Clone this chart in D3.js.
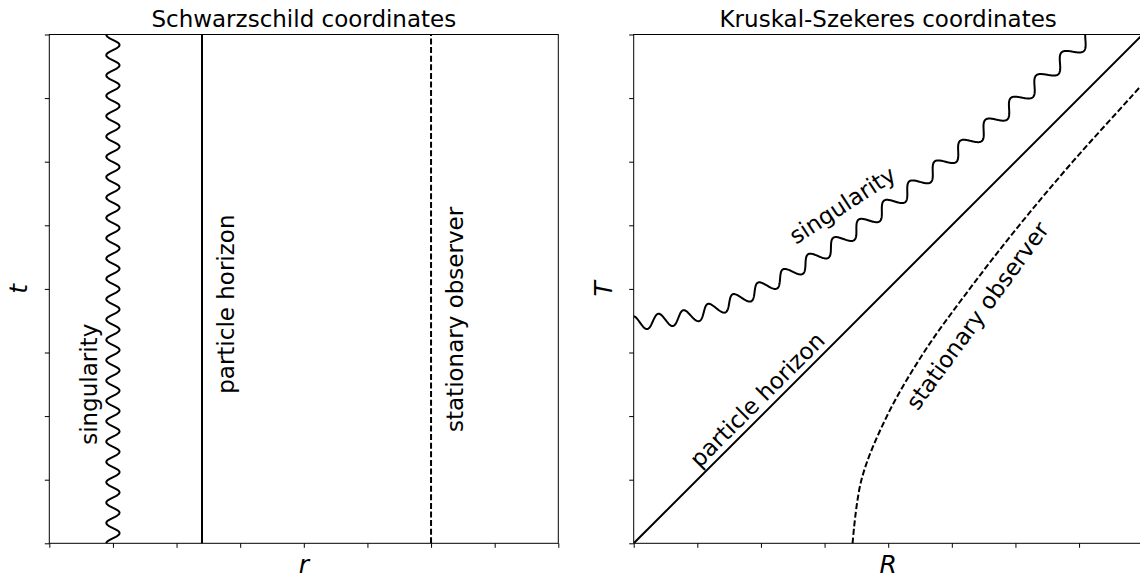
<!DOCTYPE html>
<html>
<head>
<meta charset="utf-8">
<title>Schwarzschild vs Kruskal-Szekeres</title>
<script src="https://d3js.org/d3.v7.min.js"></script>
<style>
  body { margin: 0; background: #fff; }
  svg { display: block; font-family: "DejaVu Sans", sans-serif; }
  .spine { fill: none; stroke: #000; stroke-width: 1; }
  .curve { fill: none; stroke: #000; stroke-width: 2; }
  .dashed { stroke-dasharray: 6 2.6; }
  .label { font-size: 23px; fill: #000; }
  .title { font-size: 23px; fill: #000; }
  .axlabel { font-size: 25px; font-style: italic; fill: #000; }
</style>
</head>
<body>
<svg id="chart" width="1140" height="579"></svg>
<script>
// titles and axis names
const titles = ["Schwarzschild coordinates", "Kruskal-Szekeres coordinates"];
const xNames = ["r", "R"];
const yNames = ["t", "T"];

// both panels run 0..4, unlabeled ticks every 0.5
const tickVals = [0, 0.5, 1, 1.5, 2, 2.5, 3, 3.5, 4];

// Schwarzschild panel: world lines at fixed r
const schwNames = ["singularity", "particle horizon", "stationary observer"];
const schwR = [0.5, 1.2, 3.0];
const schwLabelR = [0.31, 1.39, 3.19];
const schwLabelT = [1.25, 1.88, 1.76];

// Kruskal panel, points
const horizonR = [0, 4];
const horizonT = [0, 4];
const singR = [0, 0.5, 1, 1.5, 2, 2.5, 3, 3.5, 4];
const singT = [1.73, 1.80, 2.0, 2.29, 2.65, 3.04, 3.46, 3.91, 4.36];
const obsR = [1.72, 1.79, 1.99, 2.28, 2.64, 3.03, 3.45, 3.90, 4.35];
const obsT = [0, 0.5, 1, 1.5, 2, 2.5, 3, 3.5, 4];
const kruskalNames = ["singularity", "particle horizon", "stationary observer"];
const kruskalLabelR = [1.64, 0.97, 2.70];
const kruskalLabelT = [2.66, 1.13, 1.79];
const kruskalLabelRot = [-33, -45, -54];

const svg = d3.select("#chart");
const W = 509, plotTop = 34.5, plotBottom = 543.3;
const panelLeft = [49.3, 633.7];
const sx = panelLeft.map(l => d3.scaleLinear().domain([0, 4]).range([l, l + W]));
const sy = d3.scaleLinear().domain([0, 4]).range([plotBottom, plotTop]);
const defs = svg.append("defs");
const line = d3.line();
const smooth = d3.line().curve(d3.curveCatmullRom.alpha(0.5));

// sample a smooth path every half pixel
function sampleCurve(pts) {
    const tmp = svg.append("path").attr("d", smooth(pts));
    const node = tmp.node(), L = node.getTotalLength();
    const out = [];
    for (let s = 0; s <= L; s += 0.5) {
        const p = node.getPointAtLength(s);
        out.push([p.x, p.y, s]);
    }
    tmp.remove();
    return out;
}

// push the samples sideways along the normal -> wavy line
function wiggle(samples, amp, phase) {
    return samples.map((p, k) => {
        const a = samples[Math.max(0, k - 1)], b = samples[Math.min(samples.length - 1, k + 1)];
        let tx = b[0] - a[0], ty = b[1] - a[1];
        const n = Math.hypot(tx, ty) || 1;
        tx /= n; ty /= n;
        const off = -amp * Math.cos(phase(p));
        return [p[0] - ty * off, p[1] + tx * off];
    });
}

panelLeft.forEach((l, i) => {
    const g = svg.append("g");
    defs.append("clipPath").attr("id", "clip" + i)
        .append("rect").attr("x", l).attr("y", plotTop).attr("width", W).attr("height", plotBottom - plotTop);

    g.append("g").attr("transform", `translate(0,${plotBottom})`)
        .call(d3.axisBottom(sx[i]).tickValues(tickVals).tickFormat("").tickSize(4.5))
        .call(a => a.select(".domain").remove());
    g.append("g").attr("transform", `translate(${l},0)`)
        .call(d3.axisLeft(sy).tickValues(tickVals).tickFormat("").tickSize(4.5))
        .call(a => a.select(".domain").remove());

    g.append("rect").attr("class", "spine")
        .attr("x", l).attr("y", plotTop).attr("width", W).attr("height", plotBottom - plotTop);

    g.append("text").attr("class", "title")
        .attr("x", l + W / 2).attr("y", 27).attr("text-anchor", "middle").text(titles[i]);
    g.append("text").attr("class", "axlabel")
        .attr("x", l + W / 2).attr("y", 573).attr("text-anchor", "middle").text(xNames[i]);
    g.append("text").attr("class", "axlabel")
        .attr("transform", `translate(${l - 22},${(plotTop + plotBottom) / 2}) rotate(-90)`)
        .attr("text-anchor", "middle").text(yNames[i]);
});

// ---- left: Schwarzschild ----
const x0 = sx[0];
const left = svg.append("g").attr("clip-path", "url(#clip0)");

const singSamples = sampleCurve([[x0(schwR[0]), sy(0)], [x0(schwR[0]), sy(4)]]);
const singLen = singSamples[singSamples.length - 1][2];
left.append("path").attr("class", "curve")
    .attr("d", line(wiggle(singSamples, 6.6, p => 2 * Math.PI * 25 * p[2] / singLen)));

left.append("path").attr("class", "curve")
    .attr("d", line([[x0(schwR[1]), sy(0)], [x0(schwR[1]), sy(4)]]));
left.append("path").attr("class", "curve dashed")
    .attr("d", line([[x0(schwR[2]), sy(0)], [x0(schwR[2]), sy(4)]]));

schwNames.forEach((t, k) => {
    svg.append("text").attr("class", "label")
        .attr("transform", `translate(${x0(schwLabelR[k])},${sy(schwLabelT[k])}) rotate(-90)`)
        .attr("text-anchor", "middle").attr("dy", "0.35em").text(t);
});

// ---- right: Kruskal-Szekeres ----
const x1 = sx[1];
const right = svg.append("g").attr("clip-path", "url(#clip1)");

right.append("path").attr("class", "curve")
    .attr("d", line(horizonR.map((r, k) => [x1(r), sy(horizonT[k])])));

const kSamples = sampleCurve(singR.map((r, k) => [x1(r), sy(singT[k])]));
right.append("path").attr("class", "curve")
    .attr("d", line(wiggle(kSamples, 7, p => 2 * Math.PI * x1.invert(p[0]) / 0.2)));

right.append("path").attr("class", "curve dashed")
    .attr("d", smooth(obsR.map((r, k) => [x1(r), sy(obsT[k])])));

kruskalNames.forEach((t, k) => {
    svg.append("text").attr("class", "label")
        .attr("transform", `translate(${x1(kruskalLabelR[k])},${sy(kruskalLabelT[k])}) rotate(${kruskalLabelRot[k]})`)
        .attr("text-anchor", "middle").attr("dy", "0.35em").text(t);
});
</script>
</body>
</html>
